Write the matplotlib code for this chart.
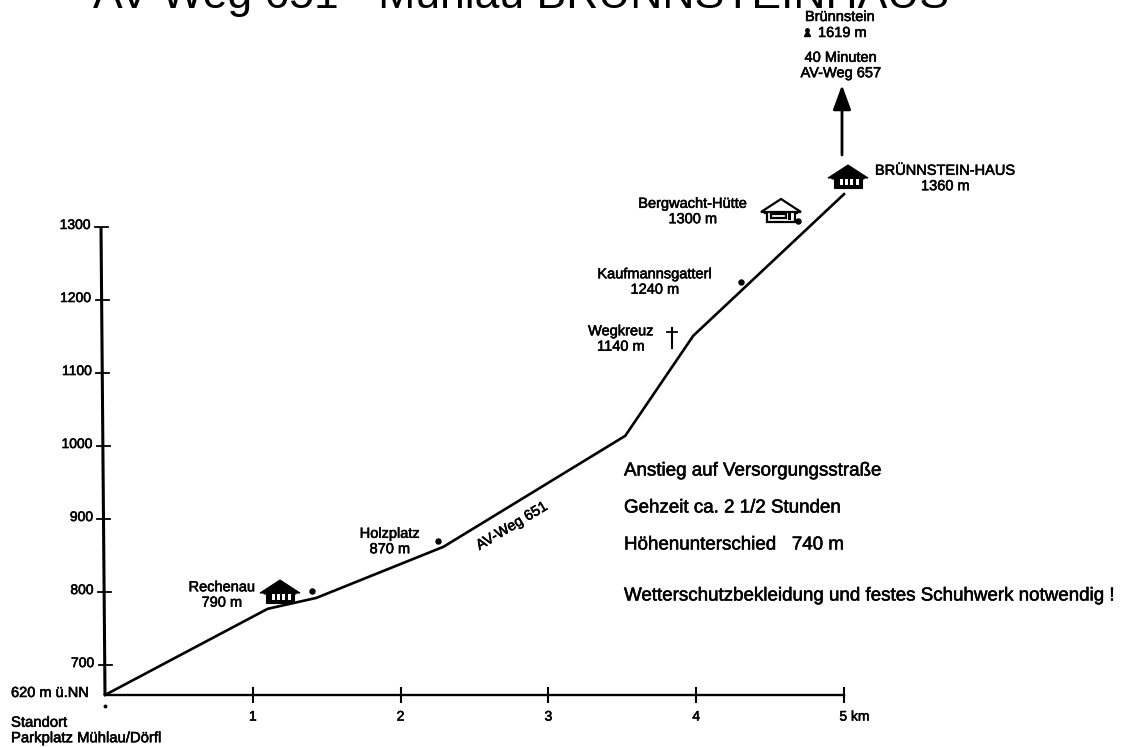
import matplotlib
matplotlib.use("Agg")
import matplotlib.pyplot as plt
import matplotlib.patches as patches
import matplotlib.patheffects as pe
from matplotlib.transforms import ScaledTranslation

plt.rcParams["font.family"] = ["Liberation Sans", "DejaVu Sans"]

# Hoehenprofil (km / m auf der Skala der Achse)
route_km = [0, 1.10, 1.43, 2.29, 3.52, 3.98, 5.0]
route_m = [659, 777, 792, 862, 1014, 1151, 1345]
point_km = [1.40, 2.25, 4.30, 4.69]
point_m = [801, 870, 1225, 1308]
x_ticks = [1, 2, 3, 4, 5]
x_labels = ["1", "2", "3", "4", "5 km"]
y_ticks = [700, 800, 900, 1000, 1100, 1200, 1300]

W, H = 1122, 747
fig = plt.figure(figsize=(W / 100, H / 100), dpi=100)

# Hauptachse: 0 km bei x=105, 5 km bei x=844, 659 m bei y=695, 1300 m bei y=227
ax = fig.add_axes([105 / W, 1 - 695 / H, 739 / W, 468 / H])
ax.set_xlim(0, 5)
ax.set_ylim(659, 1300)
ax.patch.set_visible(False)
for side in ["top", "right", "left"]:
    ax.spines[side].set_visible(False)
ax.spines["bottom"].set_linewidth(1.7)
stroke = [pe.withStroke(linewidth=0.4, foreground="black")]
ax.set_xticks(x_ticks)
ax.set_xticklabels(x_labels, fontsize=10, path_effects=stroke)
ax.set_yticks([])
ax.tick_params(axis="x", direction="inout", length=12, width=1.5, pad=4.5)
# "5 km" steht rechts neben dem Teilstrich
last = ax.get_xticklabels()[-1]
last.set_transform(last.get_transform() + ScaledTranslation(10.5 / 100, 0, fig.dpi_scale_trans))
ax.plot(route_km, route_m, color="black", lw=1.9, clip_on=False, solid_joinstyle="miter")
ax.scatter(point_km, point_m, s=13, color="black", clip_on=False, zorder=3)

# Zweite Ebene in Pixeln fuer Beschriftung und Symbole
ov = fig.add_axes([0, 0, 1, 1])
ov.set_xlim(0, W)
ov.set_ylim(H, 0)
ov.axis("off")
ov.patch.set_visible(False)


def label(x, y, s, size=10.5, ha="center"):
    ov.text(x, y, s, fontsize=size, ha=ha, va="center", linespacing=1.13, path_effects=stroke)


def axis_x(py):
    # die Achse steht im Scan leicht schief
    return 105 - 4 * (695 - py) / 468


def house(cx, cy, filled=True):
    fc = "black" if filled else "white"
    lw = 0.8 if filled else 1.6
    roof = [(-20, 1), (0, -12), (20, 1), (16, 1), (16, 2), (-16, 2), (-16, 1)]
    ov.add_patch(patches.Polygon([(cx + a, cy + b) for a, b in roof], fc=fc, ec="black", lw=lw))
    ov.add_patch(patches.Rectangle((cx - 14, cy + 1), 28, 9.5, fc=fc, ec="black", lw=lw))
    if filled:
        for dx in [-8, -3, 2, 8]:
            ov.add_patch(patches.Rectangle((cx + dx, cy + 2), 3, 6, fc="white", ec="none"))
    else:
        ov.add_patch(patches.Rectangle((cx - 10, cy + 3), 15, 4, fc="white", ec="black", lw=1.6))
        ov.add_patch(patches.Rectangle((cx + 7, cy + 2), 3, 7, fc="black", ec="none"))


# Titel, oben abgeschnitten
ov.text(93, 8, "AV-Weg 651 - Mühlau BRÜNNSTEINHAUS", fontsize=32, ha="left", va="baseline",
        clip_on=False)

# y-Achse mit Teilstrichen
to_px = ax.transData
y_top = H - to_px.transform((0, 1300))[1]
ov.plot([axis_x(695), axis_x(y_top)], [695, y_top], color="black", lw=2.2, solid_capstyle="butt")
for v in y_ticks:
    py = H - to_px.transform((0, v))[1]
    ov.plot([axis_x(py) - 6, axis_x(py) + 7], [py, py], color="black", lw=1.3)
    ov.text(axis_x(py) - 10.5, py - 2, str(v), fontsize=10, ha="right", va="center", path_effects=stroke)

label(805, 17, "Brünnstein", 10.5, "left")
label(818, 33, "1619 m", 10.5, "left")
ov.plot([807.5], [33], marker="^", ms=5, color="black")
ov.plot([807.5], [29.5], marker="o", ms=2.5, color="black")
label(841, 65.5, "40 Minuten\nAV-Weg 657", 10.5)
ov.annotate("", xy=(842, 85), xytext=(842, 155),
            arrowprops=dict(arrowstyle="-|>,head_length=1.5,head_width=0.55", color="black", lw=2,
                            shrinkA=0, shrinkB=0))

label(945.5, 178.5, "BRÜNNSTEIN-HAUS\n1360 m", 10.5)
label(693, 211.5, "Bergwacht-Hütte\n1300 m", 10.5)
label(655, 282, "Kaufmannsgatterl\n1240 m", 10.5)
label(621, 339, "Wegkreuz\n1140 m", 10.5)
label(390, 541.5, "Holzplatz\n870 m", 10.5)
label(222, 595, "Rechenau\n790 m", 10.5)
label(11, 693, "620 m ü.NN", 10.5, "left")
label(11, 730.5, "Standort\nParkplatz Mühlau/Dörfl", 10.7, "left")

ov.text(512, 526, "AV-Weg 651", fontsize=10.5, rotation=31, ha="center", va="center",
        rotation_mode="anchor", path_effects=stroke)

info_x = 624
label(info_x, 471, "Anstieg auf Versorgungsstraße", 13.5, "left")
label(info_x, 508, "Gehzeit ca. 2 1/2 Stunden", 13.5, "left")
label(info_x, 545, "Höhenunterschied   740 m", 13.5, "left")
label(info_x, 596, "Wetterschutzbekleidung und festes Schuhwerk notwendig !", 13.5, "left")

house(280, 592)
house(848, 177)
house(781, 211, filled=False)
ov.plot([672, 672], [328, 348], color="black", lw=1.5)
ov.plot([667, 677], [332, 332], color="black", lw=1.3)
ov.plot([105], [706], marker="o", ms=1.8, color="black")

fig.savefig("out.png", dpi=100)
